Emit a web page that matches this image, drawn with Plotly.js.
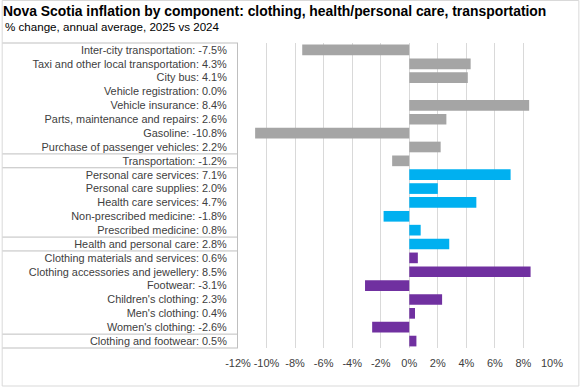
<!DOCTYPE html>
<html>
<head>
<meta charset="utf-8">
<script src="https://cdn.plot.ly/plotly-3.0.1.min.js"></script>
<style>
html,body{margin:0;padding:0;background:#fff;}
#chart{width:581px;height:389px;}
</style>
</head>
<body>
<div id="chart"></div>
<script>
const categories = [
  "Inter-city transportation",
  "Taxi and other local transportation",
  "City bus",
  "Vehicle registration",
  "Vehicle insurance",
  "Parts, maintenance and repairs",
  "Gasoline",
  "Purchase of passenger vehicles",
  "Transportation",
  "Personal care services",
  "Personal care supplies",
  "Health care services",
  "Non-prescribed medicine",
  "Prescribed medicine",
  "Health and personal care",
  "Clothing materials and services",
  "Clothing accessories and jewellery",
  "Footwear",
  "Children's clothing",
  "Men's clothing",
  "Women's clothing",
  "Clothing and footwear"
];
const values = [-7.5, 4.3, 4.1, 0.0, 8.4, 2.6, -10.8, 2.2, -1.2, 7.1, 2.0, 4.7, -1.8, 0.8, 2.8, 0.6, 8.5, -3.1, 2.3, 0.4, -2.6, 0.5];
const groups = ["t","t","t","t","t","t","t","t","t","h","h","h","h","h","h","c","c","c","c","c","c","c"];
const groupColors = {t: "#A5A5A5", h: "#00B0F0", c: "#7030A0"};
const xTicks = [-12, -10, -8, -6, -4, -2, 0, 2, 4, 6, 8, 10];
const separatorsAfter = [7, 8, 13, 14, 20]; // row indices after which a table line is drawn

const labels = categories.map((c, i) => c + ": " + values[i].toFixed(1) + "%");
const colors = groups.map(g => groupColors[g]);

const trace = {
  type: "bar",
  orientation: "h",
  x: values,
  y: labels,
  marker: {color: colors},
  hoverinfo: "x+y"
};

const FONT = "Liberation Sans, Arial, sans-serif";
const lineStyle = {color: "#BFBFBF", width: 1};
const shapes = [];
const tableLeft = -0.751; // paper coords (left border of table)
shapes.push({type: "line", xref: "paper", yref: "paper", x0: tableLeft, x1: 0, y0: 1, y1: 1, line: lineStyle});
shapes.push({type: "line", xref: "paper", yref: "paper", x0: tableLeft, x1: 0, y0: 0, y1: 0, line: lineStyle});
separatorsAfter.forEach(i => {
  shapes.push({type: "line", xref: "paper", yref: "y", x0: tableLeft, x1: 0, y0: i + 0.5, y1: i + 0.5, line: lineStyle});
});
// outer chart border
shapes.push({type: "rect", xref: "paper", yref: "paper", x0: tableLeft, x1: 1.0855, y0: -0.1246, y1: 1.1393, line: {color: "#D9D9D9", width: 1}, fillcolor: "rgba(0,0,0,0)"});

const layout = {
  width: 581,
  height: 389,
  margin: {l: 237.6, r: 29.3, t: 43, b: 41},
  paper_bgcolor: "#fff",
  plot_bgcolor: "#fff",
  showlegend: false,
  bargap: 0.23,
  font: {family: FONT, size: 11, color: "#404040"},
  title: {
    text: "<b>Nova Scotia inflation by component: clothing, health/personal care, transportation</b>",
    xref: "container", yref: "container",
    x: 3/581, xanchor: "left",
    y: 1 - 11/389, yanchor: "middle",
    font: {family: FONT, size: 13.9, color: "#000"}
  },
  annotations: [{
    text: "% change, annual average, 2025 vs 2024",
    xref: "paper", yref: "paper",
    x: tableLeft + 0.002, xanchor: "left",
    y: 1 + 16/305, yanchor: "middle",
    showarrow: false,
    font: {family: FONT, size: 11.6, color: "#000"}
  }],
  xaxis: {
    range: [-12, 10],
    tickvals: xTicks,
    ticktext: xTicks.map(v => v + "%"),
    showgrid: true,
    gridcolor: "#D9D9D9",
    gridwidth: 1,
    zeroline: false,
    showline: false,
    ticks: "",
    ticklabelstandoff: 7,
    tickfont: {size: 11, color: "#404040"},
    fixedrange: true
  },
  yaxis: {
    type: "category",
    autorange: false,
    range: [categories.length - 0.5, -0.5],
    showgrid: false,
    zeroline: false,
    showline: true,
    linecolor: "#BFBFBF",
    linewidth: 1,
    ticks: "",
    ticklabelstandoff: 8,
    tickfont: {size: 10.9, color: "#404040"},
    fixedrange: true
  },
  shapes: shapes
};

Plotly.newPlot("chart", [trace], layout, {displayModeBar: false, staticPlot: true});
</script>
</body>
</html>
